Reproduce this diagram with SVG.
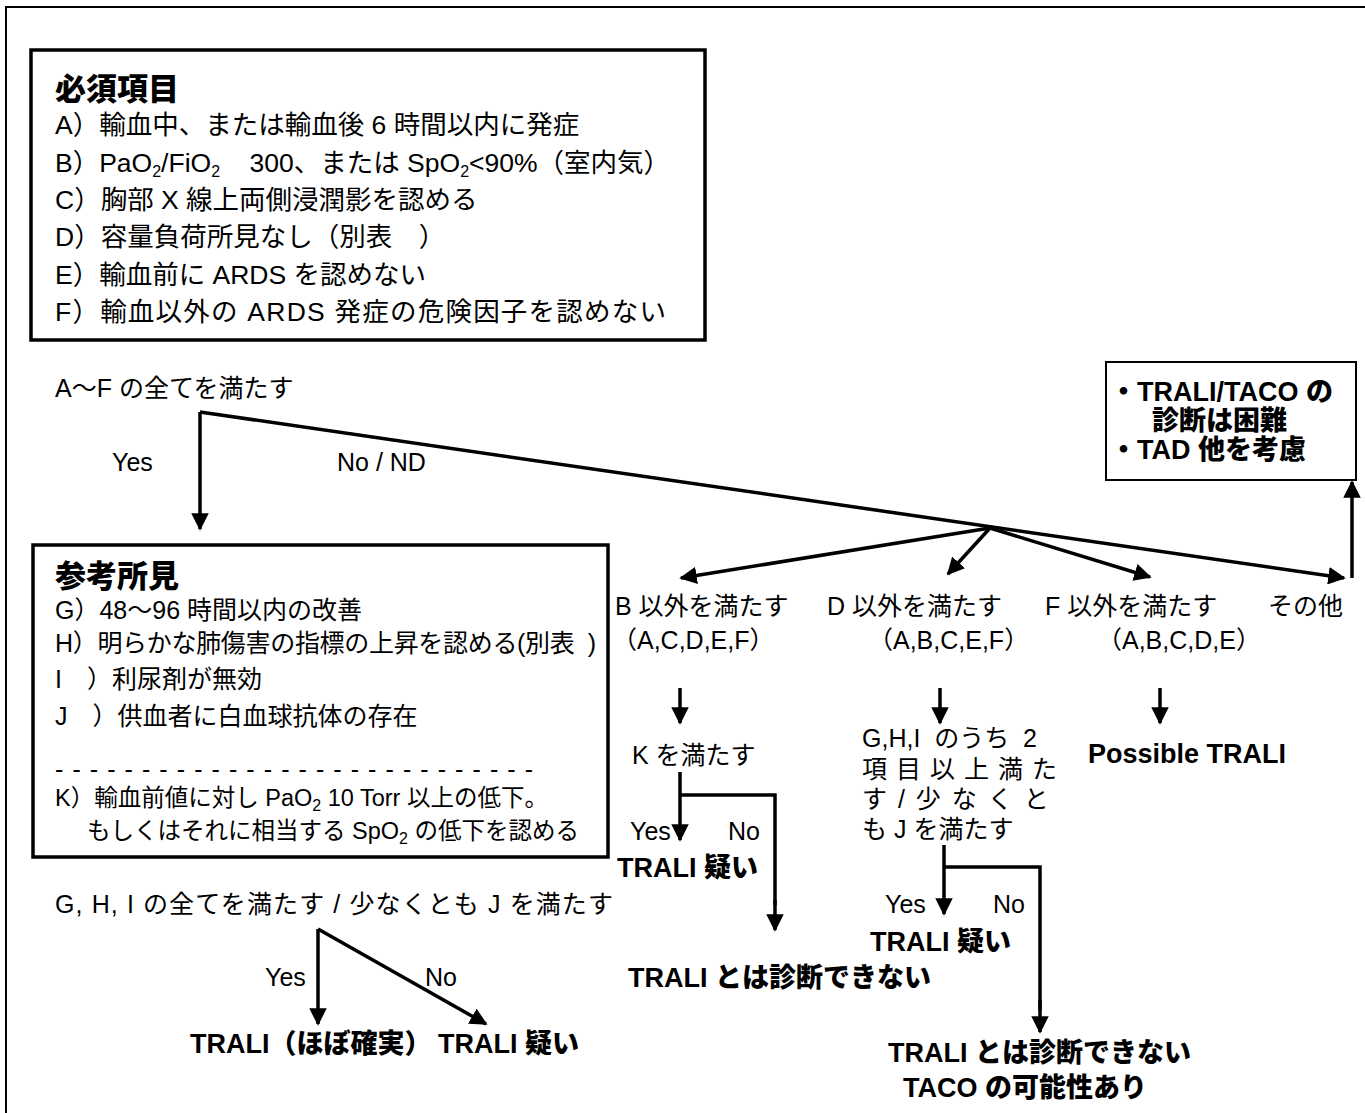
<svg xmlns="http://www.w3.org/2000/svg" width="1365" height="1113" viewBox="0 0 1365 1113">
<defs>
<marker id="ah" viewBox="0 0 10 10" refX="9" refY="5" markerWidth="5" markerHeight="5" markerUnits="strokeWidth" orient="auto">
<path d="M0,0 L10,5 L0,10 z" fill="#000"/>
</marker>
<style>
text{font-family:"Liberation Sans","Noto Sans CJK JP",sans-serif;fill:#000;}
.t{font-size:25px;}
.t1{font-size:26.5px;}
.tk{font-size:23.5px;}
.b{font-size:27px;font-weight:900;}
.h{font-size:31px;font-weight:900;}
.s{font-size:16px;}
.box{fill:#fff;stroke:#000;stroke-width:3.5;}
.thin{fill:#fff;stroke:#000;stroke-width:2;}
.c{fill:none;stroke:#000;stroke-width:3.5;}
.ca{fill:none;stroke:#000;stroke-width:3.5;marker-end:url(#ah);}
</style>
</defs>
<rect x="6" y="7" width="1400" height="1200" fill="#fff" stroke="#000" stroke-width="2"/>

<g id="box-required">
<rect class="box" x="31" y="50" width="674" height="290"/>
<text class="h" x="55" y="100">必須項目</text>
<text class="t1" x="55" y="134">A）輸血中、または輸血後 6 時間以内に発症</text>
<text class="t1" x="55" y="172">B）PaO<tspan class="s" dy="5">2</tspan><tspan dy="-5">/FiO</tspan><tspan class="s" dy="5">2</tspan><tspan dy="-5" xml:space="preserve">    300、または SpO</tspan><tspan class="s" dy="5">2</tspan><tspan dy="-5">&lt;90%（室内気）</tspan></text>
<text class="t1" x="55" y="209">C）胸部 X 線上両側浸潤影を認める</text>
<text class="t1" x="55" y="246" xml:space="preserve">D）容量負荷所見なし（別表　）</text>
<text class="t1" x="55" y="284">E）輸血前に ARDS を認めない</text>
<text class="t1" x="55" y="321" textLength="611" lengthAdjust="spacing">F）輸血以外の ARDS 発症の危険因子を認めない</text>
</g>

<g id="q-all">
<text class="t" x="55" y="397">A～F の全てを満たす</text>
<text class="t" x="112" y="471">Yes</text>
<text class="t" x="337" y="471">No / ND</text>
</g>

<g id="box-difficult">
<rect class="thin" x="1106" y="362" width="250" height="118"/>
<text class="b" x="1110" y="401">・TRALI/TACO の</text>
<text class="b" x="1152" y="430">診断は困難</text>
<text class="b" x="1110" y="459">・TAD 他を考慮</text>
</g>

<g id="box-reference">
<rect class="box" x="33" y="545" width="575" height="312"/>
<text class="h" x="55" y="587">参考所見</text>
<text class="t" x="55" y="619">G）48～96 時間以内の改善</text>
<text class="t" x="55" y="652" xml:space="preserve" textLength="541" lengthAdjust="spacing">H）明らかな肺傷害の指標の上昇を認める(別表  )</text>
<text class="t" x="55" y="688" xml:space="preserve">I　）利尿剤が無効</text>
<text class="t" x="55" y="725" xml:space="preserve">J　）供血者に白血球抗体の存在</text>
<text class="t" x="55" y="778" xml:space="preserve" textLength="478" lengthAdjust="spacing">- - - - - - - - - - - - - - - - - - - - - - - - - - - -</text>
<text class="tk" x="55" y="806">K）輸血前値に対し PaO<tspan class="s" dy="5">2</tspan><tspan dy="-5"> 10 Torr 以上の低下。</tspan></text>
<text class="tk" x="87" y="839">もしくはそれに相当する SpO<tspan class="s" dy="5">2</tspan><tspan dy="-5"> の低下を認める</tspan></text>
</g>

<g id="q-ghij">
<text class="t" x="55" y="913" textLength="558" lengthAdjust="spacing">G, H, I の全てを満たす / 少なくとも J を満たす</text>
<text class="t" x="265" y="986">Yes</text>
<text class="t" x="425" y="986">No</text>
<text class="b" x="190" y="1053">TRALI（ほぼ確実）</text>
<text class="b" x="438" y="1053">TRALI 疑い</text>
</g>

<g id="opt-b">
<text class="t" x="615" y="615">B 以外を満たす</text>
<text class="t" x="612" y="649">（A,C,D,E,F）</text>
<text class="t" x="632" y="764">K を満たす</text>
<text class="t" x="630" y="840">Yes</text>
<text class="t" x="728" y="840">No</text>
<text class="b" x="617" y="877">TRALI 疑い</text>
<text class="b" x="628" y="987">TRALI とは診断できない</text>
</g>

<g id="opt-d">
<text class="t" x="827" y="615">D 以外を満たす</text>
<text class="t" x="868" y="649">（A,B,C,E,F）</text>
<text class="t" x="862" y="747" xml:space="preserve">G,H,I  のうち  2</text>
<text class="t" x="862" y="778" letter-spacing="9">項目以上満た</text>
<text class="t" x="862" y="808" xml:space="preserve" letter-spacing="2">す / 少 な く と</text>
<text class="t" x="862" y="838">も J を満たす</text>
<text class="t" x="885" y="913">Yes</text>
<text class="t" x="993" y="913">No</text>
<text class="b" x="870" y="951">TRALI 疑い</text>
<text class="b" x="888" y="1062">TRALI とは診断できない</text>
<text class="b" x="903" y="1097">TACO の可能性あり</text>
</g>

<g id="opt-f">
<text class="t" x="1045" y="615">F 以外を満たす</text>
<text class="t" x="1097" y="649">（A,B,C,D,E）</text>
<text class="b" x="1088" y="763">Possible TRALI</text>
</g>

<g id="opt-other">
<text class="t" x="1268" y="615">その他</text>
</g>

<g id="connectors">
<path class="ca" d="M200,412 V529"/>
<path class="ca" d="M200,412 L1344,578"/>
<path class="ca" d="M1352,578 V482"/>
<path class="ca" d="M990,528 L681,578"/>
<path class="ca" d="M990,528 L948,574"/>
<path class="ca" d="M990,528 L1150,577"/>
<path class="ca" d="M680,688 V723"/>
<path class="ca" d="M940,688 V723"/>
<path class="ca" d="M1160,688 V723"/>
<path class="ca" d="M680,772 V840"/>
<path class="c" d="M680,795 H775 V905"/>
<path class="ca" d="M775,900 V930"/>
<path class="ca" d="M944,845 V914"/>
<path class="c" d="M944,867 H1040 V1010"/>
<path class="ca" d="M1040,1000 V1032"/>
<path class="ca" d="M318,929 V1024"/>
<path class="ca" d="M318,929 L486,1024"/>
</g>
</svg>
